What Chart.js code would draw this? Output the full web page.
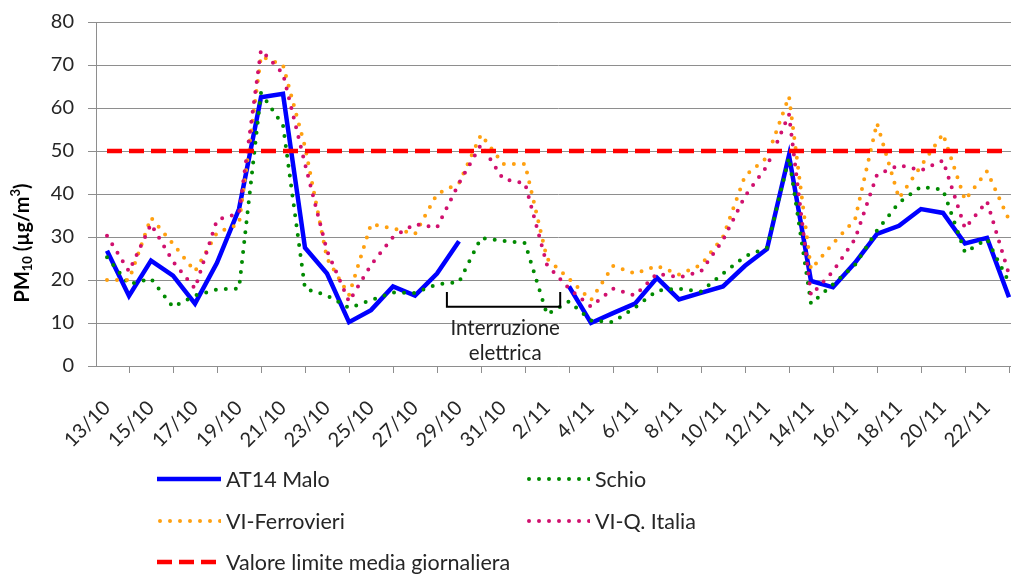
<!DOCTYPE html>
<html lang="it">
<head>
<meta charset="utf-8">
<title>PM10 - AT14 Malo</title>
<script src="https://cdn.jsdelivr.net/npm/chart.js@4.4.1/dist/chart.umd.min.js"></script>
<style>
  html, body { margin: 0; padding: 0; background: #fff; overflow: hidden; }
  body { width: 1011px; height: 575px; position: relative; font-family: Lato, "Noto Sans", sans-serif; }
  #box { position: absolute; left: 0; top: -4px; width: 1030px; height: 500px; }
  #legenda { position: absolute; left: 0; top: 0; width: 1011px; height: 575px; pointer-events: none; }
  .voce { position: absolute; display: flex; align-items: center; height: 26px; font-size: 21.5px; color: #262626; white-space: nowrap; }
  .voce svg { margin-right: 5px; }
</style>
</head>
<body>
<div id="box"><canvas id="grafico" width="1030" height="500"></canvas></div>
<div id="legenda"></div>
<script>
// Giorni di misura (13/10 - 23/11)
const giorni = ['13/10','14/10','15/10','16/10','17/10','18/10','19/10','20/10','21/10','22/10',
  '23/10','24/10','25/10','26/10','27/10','28/10','29/10','30/10','31/10','1/11',
  '2/11','3/11','4/11','5/11','6/11','7/11','8/11','9/11','10/11','11/11',
  '12/11','13/11','14/11','15/11','16/11','17/11','18/11','19/11','20/11','21/11',
  '22/11','23/11'];

// PM10 in µg/m3 (null = interruzione elettrica)
const malo = [26.8, 16.3, 24.5, 21, 14.5, 24, 36.5, 62.5, 63.3, 27.5,
  21.5, 10.2, 13, 18.5, 16.4, 21.5, 29, null, null, null,
  null, 18.5, 10, 12.3, 14.5, 20.5, 15.5, 17, 18.5, 23.3,
  27.2, 49, 19.8, 18.3, 24, 30.7, 32.6, 36.5, 35.6, 28.5,
  29.8, 16];
const schio = [25.3, 19, 20.3, 13.7, 16.4, 17.8, 18, 63.5, 56, 18,
  16.4, 13.5, 15.3, 17.1, 17, 19, 19.5, 29.8, 29.1, 28.6,
  12, 15, 10.6, 10.2, 13.6, 17.5, 18, 17.3, 21.5, 25.5,
  27.5, 48.5, 14.5, 19, 23.5, 31.5, 38, 41.7, 41, 26.4,
  29.5, 19.5];
const ferrovieri = [20, 20, 34.5, 28.4, 22, 31, 33, 72, 70, 51,
  25, 16.5, 33, 32, 30.7, 40, 42.5, 53.8, 47, 47,
  25, 20.3, 15.3, 23.3, 21.5, 23.3, 21.3, 23.5, 30, 44.2,
  48.5, 62.7, 22.5, 28.5, 34, 56.5, 39, 46.5, 54, 38.6,
  45.3, 34];
const italia = [30.3, 22, 33, 24.3, 18, 34, 35.5, 73.5, 68, 47,
  26.8, 15, 23.5, 30, 33, 32.2, 42.5, 51.5, 43.5, 42.5,
  23.5, 18, 13.8, 18, 16.4, 21.5, 20.6, 22, 29.3, 39.5,
  46.5, 58.5, 16.5, 22, 29.5, 44.5, 46.7, 45.5, 47.8, 32,
  38.3, 21.3];
// Valore limite media giornaliera
const limite = [50, 50, 50, 50, 50, 50, 50, 50, 50, 50,
  50, 50, 50, 50, 50, 50, 50, 50, 50, 50,
  50, 50, 50, 50, 50, 50, 50, 50, 50, 50,
  50, 50, 50, 50, 50, 50, 50, 50, 50, 50,
  50, 50];

const yTicks = [0, 10, 20, 30, 40, 50, 60, 70, 80];

const FONT = 'Lato, "Noto Sans", sans-serif';
const GRIGIO = '#8e8e8e';

// Nota "Interruzione elettrica" con parentesi sotto il buco dei dati
const annotazione = {
  id: 'annotazione',
  afterDatasetsDraw(chart) {
    const { ctx, scales: { x, y } } = chart;
    const x0 = x.getPixelForValue(15.45);
    const x1 = x.getPixelForValue(20.6);
    const xc = x.getPixelForValue(18.1);
    const yTop = y.getPixelForValue(17.2);
    const yBot = y.getPixelForValue(13.8);
    ctx.save();
    ctx.strokeStyle = '#000';
    ctx.lineWidth = 2;
    ctx.beginPath();
    ctx.moveTo(x0, yTop);
    ctx.lineTo(x0, yBot);
    ctx.lineTo(x1, yBot);
    ctx.lineTo(x1, yTop);
    ctx.stroke();
    ctx.fillStyle = '#222';
    ctx.font = '20.5px ' + FONT;
    ctx.textAlign = 'center';
    ctx.textBaseline = 'alphabetic';
    ctx.fillText('Interruzione', xc, y.getPixelForValue(7.2));
    ctx.fillText('elettrica', xc, y.getPixelForValue(1.4));
    ctx.restore();
  }
};

// Titolo asse Y con pedice e apice veri: PM10 (µg/m3)
const titoloY = {
  id: 'titoloY',
  afterDraw(chart) {
    const { ctx, chartArea } = chart;
    const pezzi = [
      { t: 'PM', size: 20, dy: 0 },
      { t: '10', size: 13, dy: 5 },
      { t: ' (µg/m', size: 20, dy: 0 },
      { t: '3', size: 13, dy: -7 },
      { t: ')', size: 20, dy: 0 }
    ];
    ctx.save();
    let tot = 0;
    pezzi.forEach(p => { ctx.font = `bold ${p.size}px ${FONT}`; p.w = ctx.measureText(p.t).width; tot += p.w; });
    ctx.translate(23, chartArea.top + 221);
    ctx.rotate(-Math.PI / 2);
    ctx.fillStyle = '#000';
    ctx.textBaseline = 'middle';
    ctx.textAlign = 'left';
    let px = -tot / 2;
    pezzi.forEach(p => {
      ctx.font = `bold ${p.size}px ${FONT}`;
      ctx.fillText(p.t, px, p.dy);
      px += p.w;
    });
    ctx.restore();
  }
};

const grafico = new Chart(document.getElementById('grafico'), {
  type: 'line',
  data: {
    labels: giorni,
    datasets: [
      { label: 'AT14 Malo', data: malo, borderColor: '#0000ff', borderWidth: 4.5,
        borderDash: [], borderCapStyle: 'butt', order: 5 },
      { label: 'Schio', data: schio, borderColor: '#008a00', borderWidth: 4,
        borderDash: [0, 10], borderCapStyle: 'round', order: 4 },
      { label: 'VI-Ferrovieri', data: ferrovieri, borderColor: '#ffa010', borderWidth: 4,
        borderDash: [0, 10], borderCapStyle: 'round', order: 3 },
      { label: 'VI-Q. Italia', data: italia, borderColor: '#d0106e', borderWidth: 4,
        borderDash: [0, 10], borderCapStyle: 'round', order: 2 },
      { label: 'Valore limite media giornaliera', data: limite, borderColor: '#ff0000', borderWidth: 4.5,
        borderDash: [15, 7], borderCapStyle: 'butt', order: 1 }
    ]
  },
  options: {
    responsive: false,
    animation: false,
    layout: { padding: { top: 8, right: 10, left: 0, bottom: 0 } },
    elements: { point: { radius: 0 }, line: { tension: 0, fill: false } },
    plugins: { legend: { display: false }, tooltip: { enabled: false } },
    scales: {
      x: {
        offset: true,
        grid: { offset: true, drawOnChartArea: false, color: GRIGIO, tickLength: 7 },
        border: { color: GRIGIO },
        ticks: {
          autoSkip: false, maxRotation: 45, minRotation: 45, padding: 23,
          color: '#262626', font: { family: FONT, size: 20 },
          callback: (v, i) => (i % 2 === 0 ? giorni[i] : null)
        },
        afterFit: s => { s.height = 130; }
      },
      y: {
        min: 0, max: 80,
        afterBuildTicks: s => { s.ticks = yTicks.map(v => ({ value: v })); },
        grid: { color: GRIGIO, tickLength: 8 },
        border: { color: GRIGIO },
        ticks: { color: '#262626', padding: 14, font: { family: FONT, size: 20 } },
        afterFit: s => { s.width = 96; }
      }
    }
  },
  plugins: [annotazione, titoloY]
});

// Legenda a due colonne costruita dai dataset
const colonne = [157, 526];
const righe = [479, 521, 562];
const legenda = document.getElementById('legenda');
grafico.data.datasets.forEach((ds, i) => {
  const voce = document.createElement('div');
  voce.className = 'voce';
  voce.style.left = colonne[i % 2] + 'px';
  voce.style.top = (righe[Math.floor(i / 2)] - 13) + 'px';
  const dash = ds.borderDash.length ? ds.borderDash.join(' ') : 'none';
  const x1 = ds.borderCapStyle === 'round' ? 3 : 0;
  voce.innerHTML = `<svg width="64" height="10"><line x1="${x1}" y1="5" x2="64" y2="5" stroke="${ds.borderColor}"
    stroke-width="${ds.borderWidth}" stroke-dasharray="${dash}" stroke-linecap="${ds.borderCapStyle}"/></svg>
    <span>${ds.label}</span>`;
  legenda.appendChild(voce);
});
</script>
</body>
</html>
